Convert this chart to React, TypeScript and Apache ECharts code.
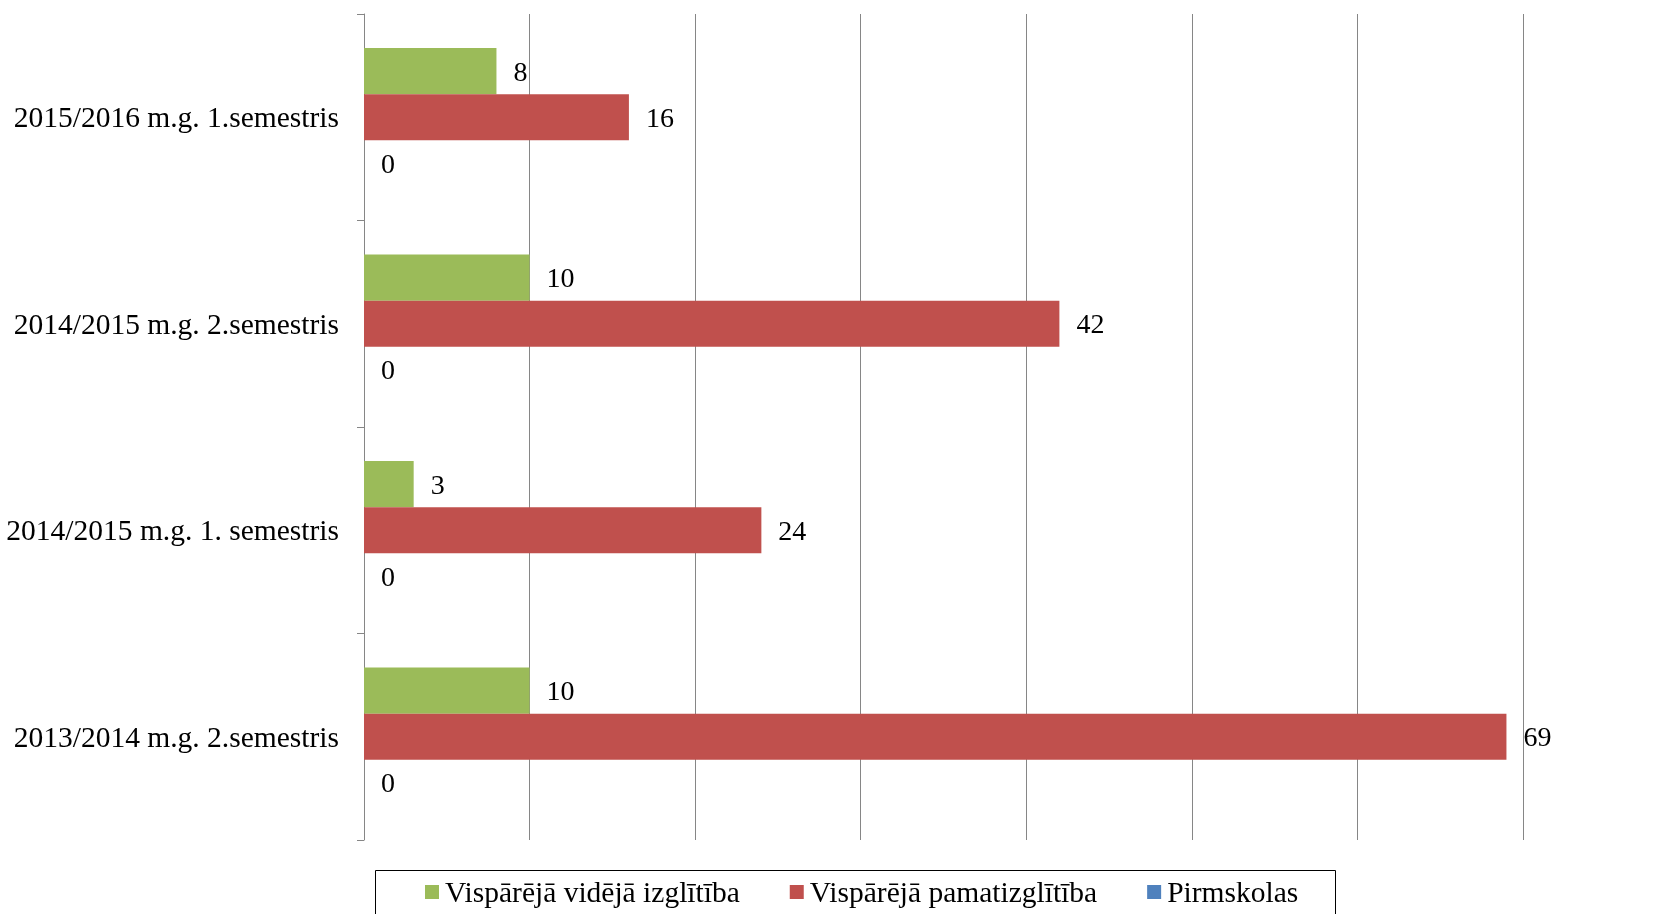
import React, { useEffect, useRef } from "react";
import * as echarts from "echarts";

const categories = [
  "2013/2014 m.g. 2.semestris",
  "2014/2015 m.g. 1. semestris",
  "2014/2015 m.g. 2.semestris",
  "2015/2016 m.g. 1.semestris",
];
const seriesNames = ["Vispārējā vidējā izglītība", "Vispārējā pamatizglītība", "Pirmskolas"];
const videja = [10, 3, 10, 8];
const pamat = [69, 24, 42, 16];
const pirmskolas = [0, 0, 0, 0];
const colors = ["#9BBB59", "#C0504D", "#4F81BD"];

const FONT = '"Liberation Serif", "Times New Roman", serif';

export default function App() {
  const ref = useRef<HTMLDivElement>(null);
  useEffect(() => {
    if (!ref.current) return;
    const chart = echarts.init(ref.current, null, { renderer: "svg" });
    const mk = (name: string, data: number[], color: string) => ({
      name,
      type: "bar",
      data,
      barGap: "0%",
      barCategoryGap: "33%",
      itemStyle: { color },
      label: {
        show: true,
        position: "right",
        distance: 17,
        color: "#000",
        fontFamily: FONT,
        fontSize: 28,
      },
    });
    chart.setOption({
      animation: false,
      textStyle: { fontFamily: FONT },
      grid: { left: 364, right: 155, top: 14, bottom: 74, containLabel: false },
      xAxis: {
        type: "value",
        min: 0,
        max: 70,
        interval: 10,
        axisLabel: { show: false },
        axisLine: { show: false },
        axisTick: { show: false },
        splitLine: { show: true, lineStyle: { color: "#868686", width: 1 } },
      },
      yAxis: {
        type: "category",
        data: categories,
        axisLine: { show: true, lineStyle: { color: "#868686", width: 1 } },
        axisTick: { show: true, length: 7, lineStyle: { color: "#868686" } },
        axisLabel: { color: "#000", fontFamily: FONT, fontSize: 29.5, margin: 25 },
      },
      legend: {
        data: seriesNames,
        left: 420,
        top: 871,
        itemWidth: 14,
        itemHeight: 14,
        itemGap: 50,
        icon: "rect",
        textStyle: { color: "#000", fontFamily: FONT, fontSize: 29.5, lineHeight: 32, padding: [0, 0, 0, 1] },
      },
      graphic: [
        {
          type: "rect",
          shape: { x: 375.5, y: 870.5, width: 960, height: 80 },
          style: { fill: "none", stroke: "#000", lineWidth: 1 },
          silent: true,
        },
      ],
      series: [
        mk(seriesNames[0], videja, colors[0]),
        mk(seriesNames[1], pamat, colors[1]),
        mk(seriesNames[2], pirmskolas, colors[2]),
      ],
    });
    return () => chart.dispose();
  }, []);
  return <div ref={ref} style={{ position: "fixed", left: 0, top: 0, width: 1678, height: 914 }} />;
}
